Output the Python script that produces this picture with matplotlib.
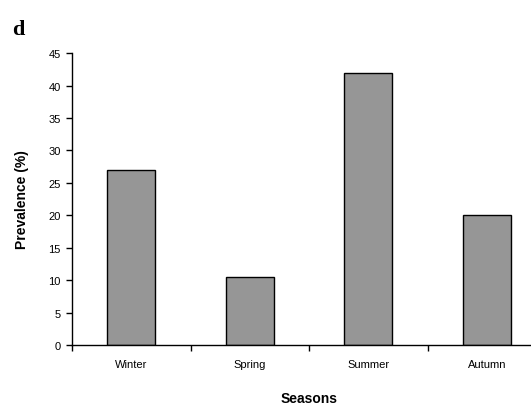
import numpy as np
import matplotlib.pyplot as plt

seasons = ['Winter', 'Spring', 'Summer', 'Autumn']
prevalence = [27.0, 10.5, 42.0, 20.0]

plt.rcParams['font.family'] = ['Liberation Sans', 'DejaVu Sans']

fig = plt.figure(figsize=(5.31, 4.06), dpi=100)
ax = fig.add_axes([0.1356, 0.1478, 0.893, 0.719])

x = np.arange(len(seasons))
ax.bar(x, prevalence, width=0.405, color='#969696', edgecolor='black', linewidth=1.0)

ax.set_xlim(-0.5, len(seasons) - 0.5)
ax.set_ylim(0, 45)
ax.set_yticks(np.arange(0, 46, 5))
ax.set_xticks(x)
ax.set_xticklabels(seasons, fontsize=8)
ax.set_xticks(np.arange(-0.5, len(seasons), 1.0), minor=True)
ax.tick_params(axis='x', which='major', length=0, pad=10)
ax.tick_params(axis='x', which='minor', length=4, direction='out', width=1)
ax.tick_params(axis='y', length=4, direction='out', width=1, labelsize=8, pad=4)

for s in ['top', 'right']:
    ax.spines[s].set_visible(False)
ax.spines['left'].set_linewidth(1)
ax.spines['bottom'].set_linewidth(1)

ax.set_ylabel('Prevalence (%)', fontsize=10, fontweight='bold', labelpad=14)
ax.set_xlabel('Seasons', fontsize=10, fontweight='bold', labelpad=16)

fig.text(0.023, 0.915, 'd', fontsize=16, fontweight='bold', family='Liberation Serif')

plt.savefig('out.png', dpi=100)
